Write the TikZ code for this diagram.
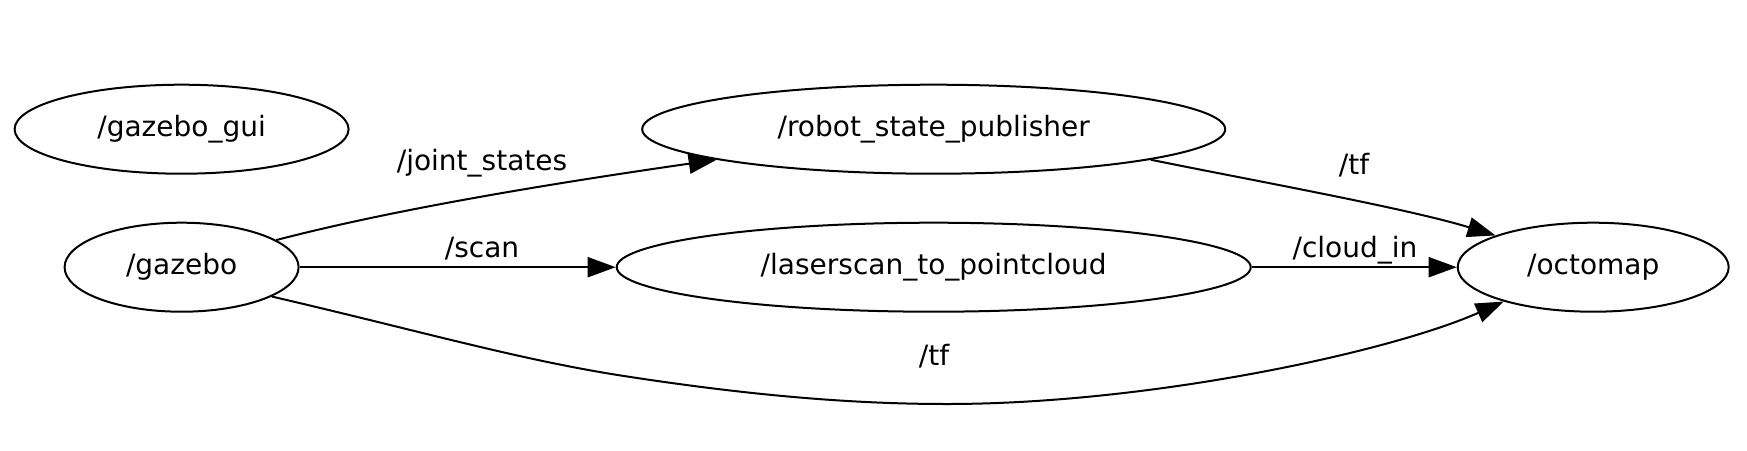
\documentclass[tikz,border=0pt]{standalone}
\usepackage{fontspec}
\setmainfont{DejaVu Sans}
\usetikzlibrary{shapes.geometric,arrows.meta,positioning}

\begin{document}
\begin{tikzpicture}[
  x=1pt,y=-1pt,
  node distance=47pt,
  rosnode/.style={draw,ellipse,line width=2pt,inner sep=0pt,minimum height=89pt,font=\fontsize{28}{34}\selectfont,text height=21pt,text depth=6pt},
  topic/.style={inner sep=0pt,font=\fontsize{28}{34}\selectfont,text height=21pt,text depth=6pt},
  edge/.style={-{Triangle[length=28pt,width=20pt]},line width=2pt}
]
  \useasboundingbox (0,0) rectangle (1747,450);
  \node[rosnode,minimum width=334pt] (gui) at (181.6,129.2) {/gazebo\_gui};
  \node[rosnode,minimum width=234pt,below=of gui] (gazebo) {/gazebo};
  \node[rosnode,minimum width=583pt] (rsp) at (933.7,129.2) {/robot\_state\_publisher};
  \node[rosnode,minimum width=634pt,below=of rsp] (l2p) {/laserscan\_to\_pointcloud};
  \node[rosnode,minimum width=271pt,right=205pt of l2p] (octomap) {/octomap};
  \coordinate (tfknee) at (624,376);
  \coordinate (tfbend) at (947,404);
  % topics
  \draw[edge] (gazebo.16) .. controls (380,213) and (520,188) .. (rsp.188);
  \draw[edge] (gazebo.east) -- (l2p.west);
  \draw[edge] (l2p.east) -- (octomap.west);
  \draw[edge] (rsp.-8) .. controls (1245,179) and (1406,208) .. (octomap.162);
  \draw[edge] (gazebo.-18) .. controls (420,331) and (520,360) .. (tfknee)
    .. controls (760,397) and (860,404) .. (tfbend)
    .. controls (1150,404) and (1390,352) .. (octomap.201);
  \node[topic] (ljoint) at (482,163) {/joint\_states};
  \node[topic] (lscan) at (482,250) {/scan};
  \node[topic] (lcloud) at (1355,250) {/cloud\_in};
  \node[topic] (ltftop) at (1354,167) {/tf};
  \node[topic] (ltfbot) at (934,358) {/tf};
\end{tikzpicture}
\end{document}
